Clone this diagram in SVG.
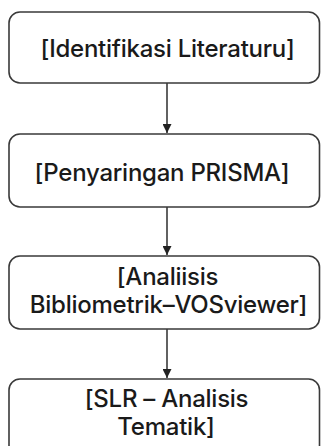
<svg xmlns="http://www.w3.org/2000/svg" width="321" height="446" viewBox="0 0 321 446">
<style>
.box{fill:#fff;stroke:#3a3a3a;stroke-width:1.6}
.t{font-family:Inter,"Liberation Sans",sans-serif;font-size:24px;font-weight:500;fill:#1a1a1a;text-anchor:middle;letter-spacing:-0.25px}
.c{stroke:#3a3a3a;stroke-width:1.6;fill:none}
</style>
<defs>
<marker id="ah" viewBox="0 0 10 10" refX="10" refY="5" markerWidth="9" markerHeight="9" markerUnits="userSpaceOnUse" orient="auto">
<path d="M0,0 L10,5 L0,10 z" fill="#222"/>
</marker>
</defs>
<rect width="321" height="446" fill="#fff"/>
<g id="connectors">
<line class="c" x1="167" y1="83" x2="167" y2="133" marker-end="url(#ah)"/>
<line class="c" x1="167" y1="207" x2="167" y2="255" marker-end="url(#ah)"/>
<line class="c" x1="167" y1="329" x2="167" y2="378" marker-end="url(#ah)"/>
</g>
<g id="n1">
<rect class="box" x="9" y="12" width="310.5" height="71" rx="11"/>
<text class="t" x="167.5" y="57">[Identifikasi Literaturu]</text>
</g>
<g id="n2">
<rect class="box" x="9" y="134" width="310.5" height="73" rx="11"/>
<text class="t" x="162" y="181">[Penyaringan PRISMA]</text>
</g>
<g id="n3">
<rect class="box" x="9" y="256" width="310.5" height="73" rx="11"/>
<text class="t" x="167.5" y="285">[Analiisis</text>
<text class="t" x="168.5" y="313">Bibliometrik–VOSviewer]</text>
</g>
<g id="n4">
<rect class="box" x="9" y="379" width="310.5" height="80" rx="11"/>
<text class="t" x="166.5" y="407">[SLR – Analisis</text>
<text class="t" x="166" y="435">Tematik]</text>
</g>
</svg>
